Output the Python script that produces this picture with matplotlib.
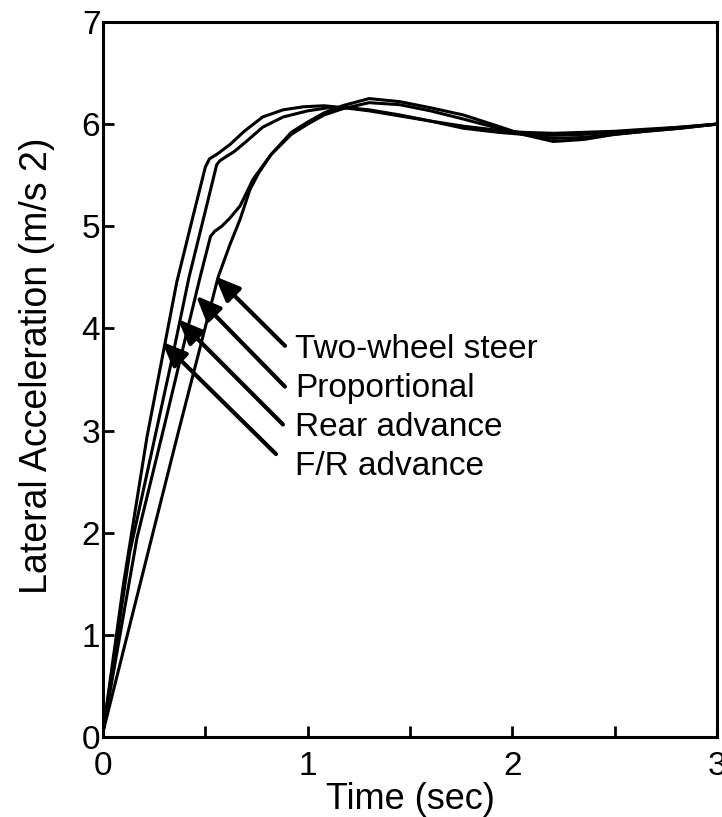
import matplotlib
matplotlib.use("Agg")
import matplotlib.pyplot as plt
from matplotlib.ticker import MultipleLocator

plt.rcParams['font.family'] = ['Liberation Sans', 'DejaVu Sans']

# F/R advance (fastest, leftmost)
fr_t = [0, 0.10, 0.215, 0.36, 0.44, 0.50, 0.52, 0.56, 0.62, 0.69, 0.78, 0.88, 0.98, 1.08, 1.18,
        1.30, 1.45, 1.60, 1.76, 1.93, 2.05, 2.20, 2.35, 2.50, 2.65, 2.82, 3.00]
fr_a = [0.05, 1.50, 2.94, 4.45, 5.10, 5.58, 5.66, 5.71, 5.80, 5.93, 6.07, 6.14, 6.17, 6.18, 6.16,
        6.13, 6.08, 6.03, 5.98, 5.94, 5.92, 5.91, 5.92, 5.93, 5.95, 5.97, 6.00]

# Rear advance
ra_t = [0, 0.13, 0.254, 0.34, 0.42, 0.50, 0.555, 0.57, 0.60, 0.64, 0.70, 0.78, 0.88, 1.00, 1.10, 1.20,
        1.30, 1.45, 1.60, 1.76, 1.93, 2.05, 2.20, 2.35, 2.50, 2.65, 2.82, 3.00]
ra_a = [0.05, 1.80, 2.94, 3.73, 4.50, 5.15, 5.60, 5.64, 5.68, 5.73, 5.83, 5.97, 6.07, 6.13, 6.16, 6.16,
        6.14, 6.09, 6.03, 5.96, 5.92, 5.90, 5.89, 5.90, 5.92, 5.94, 5.97, 6.00]

# Proportional
pr_t = [0, 0.166, 0.30, 0.38, 0.474, 0.525, 0.545, 0.58, 0.62, 0.67, 0.733, 0.82, 0.92, 1.00, 1.08,
        1.17, 1.30, 1.45, 1.60, 1.76, 1.93, 2.05, 2.20, 2.35, 2.50, 2.65, 2.82, 3.00]
pr_a = [0.05, 1.95, 3.05, 3.72, 4.50, 4.90, 4.95, 5.00, 5.08, 5.20, 5.46, 5.70, 5.90, 6.00, 6.09,
        6.15, 6.21, 6.19, 6.13, 6.05, 5.96, 5.90, 5.86, 5.87, 5.90, 5.93, 5.96, 6.00]

# Two-wheel steer (slowest)
tw_t = [0, 0.244, 0.366, 0.47, 0.562, 0.62, 0.67, 0.718, 0.76, 0.82, 0.92, 1.00, 1.08, 1.17, 1.30,
        1.45, 1.60, 1.76, 1.93, 2.05, 2.20, 2.35, 2.50, 2.65, 2.82, 3.00]
tw_a = [0.05, 2.00, 2.97, 3.78, 4.50, 4.82, 5.07, 5.36, 5.52, 5.70, 5.92, 6.02, 6.11, 6.18, 6.25,
        6.22, 6.16, 6.09, 5.98, 5.90, 5.83, 5.85, 5.90, 5.93, 5.96, 6.00]

labels = ["Two-wheel steer", "Proportional", "Rear advance", "F/R advance"]
arrow_tips = [(0.547, 4.51), (0.454, 4.32), (0.366, 4.09), (0.288, 3.87)]
arrow_tails = [(0.889, 3.83), (0.889, 3.43), (0.879, 3.06), (0.845, 2.77)]
label_pos = [(0.94, 3.79), (0.94, 3.41), (0.94, 3.03), (0.94, 2.65)]

x_major = [0, 1, 2, 3]
y_major = [0, 1, 2, 3, 4, 5, 6, 7]

fig = plt.figure(figsize=(7.22, 8.17), dpi=100)
ax = fig.add_axes([0.1427, 0.0979, 0.8504, 0.8752])

for t, a in [(fr_t, fr_a), (ra_t, ra_a), (pr_t, pr_a), (tw_t, tw_a)]:
    ax.plot(t, a, color='black', lw=2.2, solid_joinstyle='round')

for lab, tip, tail, pos in zip(labels, arrow_tips, arrow_tails, label_pos):
    ax.annotate('', xy=tip, xytext=tail,
                arrowprops=dict(arrowstyle='-|>,head_length=0.6,head_width=0.25', color='black',
                                lw=3, shrinkA=0, shrinkB=0, mutation_scale=25))
    ax.text(pos[0], pos[1], lab, fontsize=24, ha='left', va='center')

ax.set_xlim(0, 3)
ax.set_ylim(0, 7)
ax.set_xticks(x_major)
ax.xaxis.set_minor_locator(MultipleLocator(0.5))
ax.set_yticks(y_major)
ax.tick_params(axis='both', which='both', direction='in', length=8, width=2, labelsize=24,
               top=False, right=False)
ax.tick_params(axis='x', pad=10)
ax.tick_params(axis='y', pad=2)
for s in ax.spines.values():
    s.set_linewidth(2.2)

ax.set_xlabel('Time (sec)', fontsize=26, labelpad=0)
ax.set_ylabel('Lateral Acceleration (m/s 2)', fontsize=27)
ax.yaxis.set_label_coords(-0.0775, 0.519)

fig.savefig('out.png', dpi=100)
